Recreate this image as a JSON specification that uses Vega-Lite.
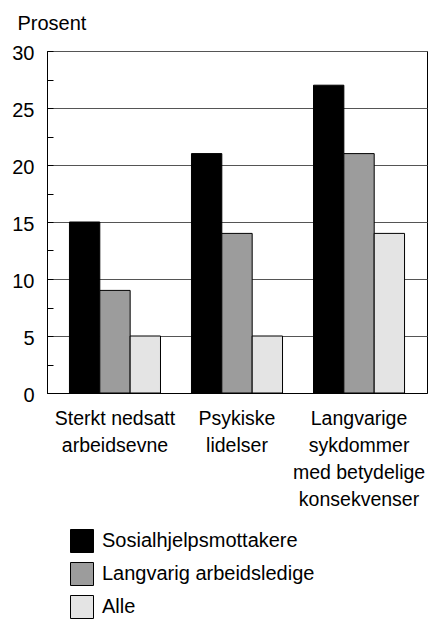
{
  "$schema": "https://vega.github.io/schema/vega-lite/v6.json",
  "width": 380,
  "height": 342,
  "autosize": {"type": "none"},
  "padding": {"left": 47, "top": 51, "right": 5, "bottom": 231},
  "background": "white",
  "config": {
    "font": "Liberation Sans",
    "view": {"stroke": "#000", "strokeWidth": 1}
  },
  "data": {
    "values": [
      {"gruppe": "Sterkt nedsatt|arbeidsevne", "serie": "Sosialhjelpsmottakere", "verdi": 15},
      {"gruppe": "Sterkt nedsatt|arbeidsevne", "serie": "Langvarig arbeidsledige", "verdi": 9},
      {"gruppe": "Sterkt nedsatt|arbeidsevne", "serie": "Alle", "verdi": 5},
      {"gruppe": "Psykiske|lidelser", "serie": "Sosialhjelpsmottakere", "verdi": 21},
      {"gruppe": "Psykiske|lidelser", "serie": "Langvarig arbeidsledige", "verdi": 14},
      {"gruppe": "Psykiske|lidelser", "serie": "Alle", "verdi": 5},
      {"gruppe": "Langvarige|sykdommer|med betydelige|konsekvenser", "serie": "Sosialhjelpsmottakere", "verdi": 27},
      {"gruppe": "Langvarige|sykdommer|med betydelige|konsekvenser", "serie": "Langvarig arbeidsledige", "verdi": 21},
      {"gruppe": "Langvarige|sykdommer|med betydelige|konsekvenser", "serie": "Alle", "verdi": 14}
    ]
  },
  "mark": {"type": "bar", "stroke": "#000", "strokeWidth": 1},
  "encoding": {
    "x": {
      "field": "gruppe",
      "type": "nominal",
      "sort": ["Sterkt nedsatt|arbeidsevne", "Psykiske|lidelser", "Langvarige|sykdommer|med betydelige|konsekvenser"],
      "scale": {"paddingInner": 0.254, "paddingOuter": 0.184},
      "axis": {
        "title": null,
        "labelAngle": 0,
        "labelExpr": "split(datum.label, '|')",
        "labelFontSize": 19.5,
        "labelColor": "#000",
        "labelLineHeight": 27,
        "labelPadding": 16,
        "labelBaseline": "top",
        "ticks": false,
        "domainColor": "#000",
        "domainWidth": 1
      }
    },
    "xOffset": {
      "field": "serie",
      "type": "nominal",
      "sort": ["Sosialhjelpsmottakere", "Langvarig arbeidsledige", "Alle"],
      "scale": {"paddingInner": 0, "paddingOuter": 0}
    },
    "y": {
      "field": "verdi",
      "type": "quantitative",
      "scale": {"domain": [0, 30], "nice": false},
      "axis": {
        "title": "Prosent",
        "titleAngle": 0,
        "titleAlign": "left",
        "titleBaseline": "alphabetic",
        "titleX": -30,
        "titleY": -22,
        "titleFontSize": 20,
        "titleFontWeight": "normal",
        "titleColor": "#000",
        "values": [0, 2.5, 5, 7.5, 10, 12.5, 15, 17.5, 20, 22.5, 25, 27.5, 30],
        "labelExpr": "datum.value % 5 === 0 ? datum.label : ''",
        "labelFontSize": 20,
        "labelColor": "#000",
        "labelPadding": 19,
        "labelOffset": 2,
        "tickSize": -6,
        "tickColor": "#000",
        "domainColor": "#000",
        "domainWidth": 1,
        "grid": true,
        "gridColor": "#555",
        "gridWidth": 1,
        "gridOpacity": {"condition": {"test": "datum.value % 5 === 0", "value": 1}, "value": 0}
      }
    },
    "fill": {
      "field": "serie",
      "type": "nominal",
      "sort": ["Sosialhjelpsmottakere", "Langvarig arbeidsledige", "Alle"],
      "scale": {
        "domain": ["Sosialhjelpsmottakere", "Langvarig arbeidsledige", "Alle"],
        "range": ["#000000", "#9c9c9c", "#e4e4e4"]
      },
      "legend": {
        "title": null,
        "orient": "none",
        "legendX": 23,
        "legendY": 478,
        "symbolType": "square",
        "symbolSize": 529,
        "symbolStrokeColor": "#000",
        "symbolStrokeWidth": 1,
        "symbolOpacity": 1,
        "labelFontSize": 20,
        "labelColor": "#000",
        "labelOffset": 8,
        "rowPadding": 5,
        "labelLimit": 400
      }
    }
  }
}
